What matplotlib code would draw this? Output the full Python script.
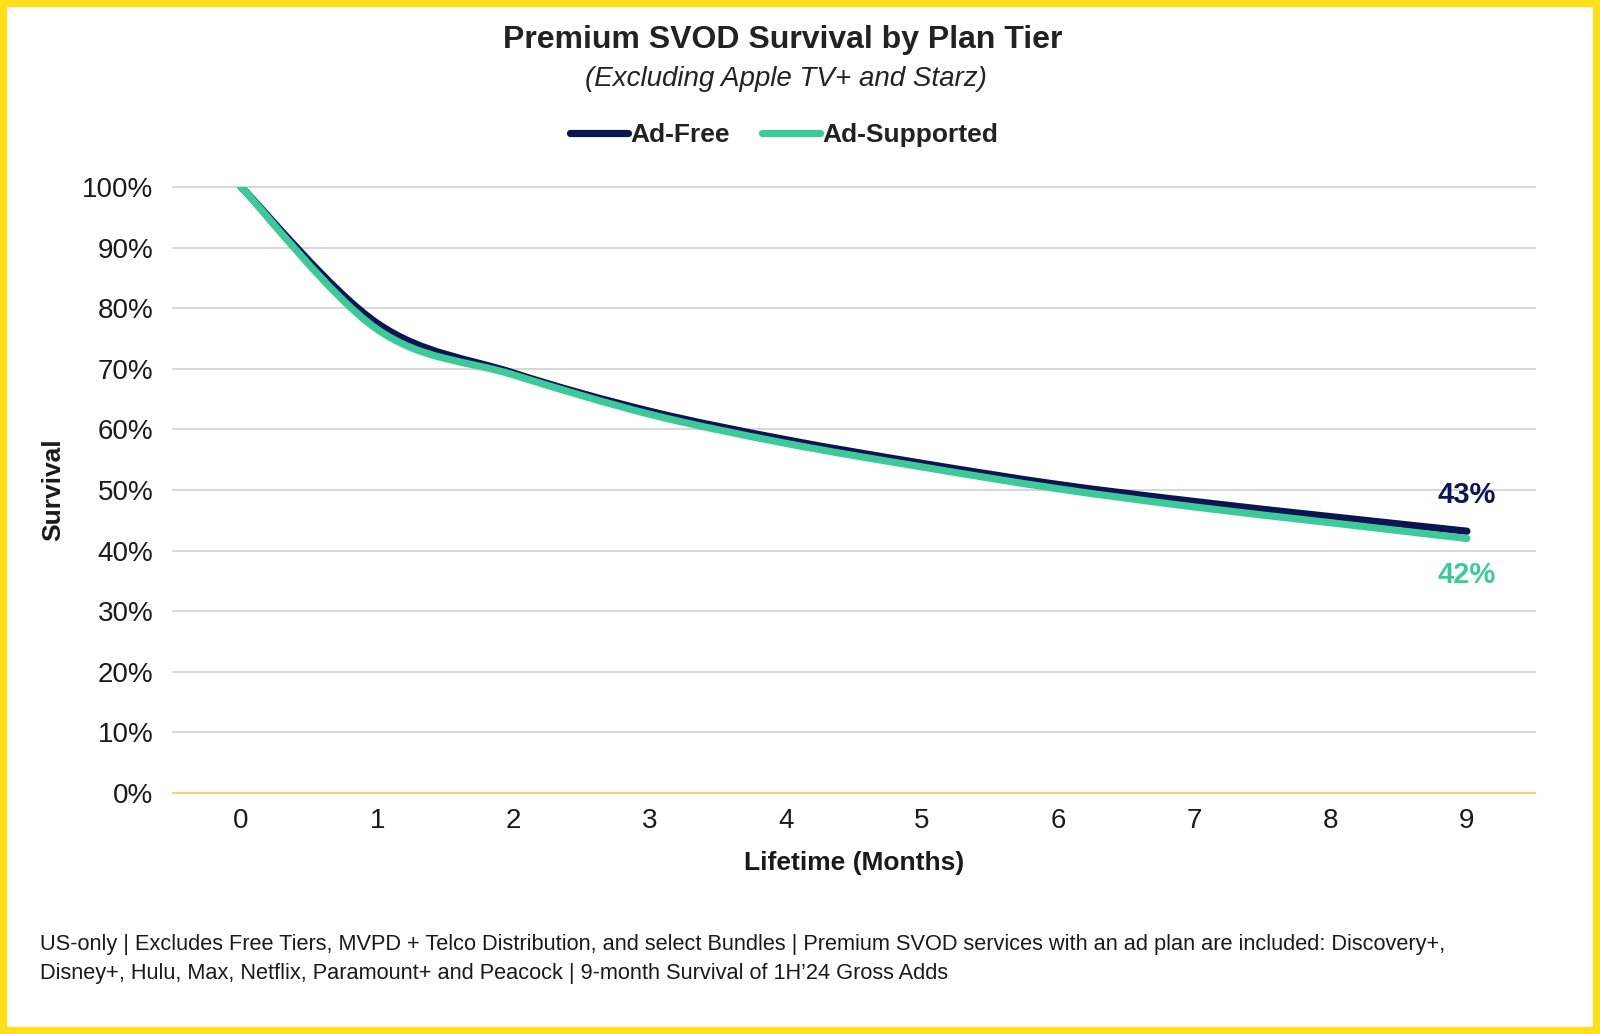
import numpy as np
import matplotlib.pyplot as plt
from matplotlib.path import Path
from matplotlib.patches import PathPatch, Rectangle
from matplotlib.lines import Line2D

months = [0, 1, 2, 3, 4, 5, 6, 7, 8, 9]
ad_free = [1.000, 0.775, 0.693, 0.630, 0.583, 0.544, 0.509, 0.481, 0.456, 0.432]
ad_supported = [1.000, 0.765, 0.690, 0.625, 0.577, 0.538, 0.502, 0.472, 0.446, 0.420]
series_names = ['Ad-Free', 'Ad-Supported']
end_labels = ['43%', '42%']

NAVY = '#0c1452'
GREEN = '#3ec99b'
GRID = '#d4d4d4'
YELLOW = '#ffdf1c'
TEXT = '#1a1a1a'

plt.rcParams['font.family'] = ['Liberation Sans', 'DejaVu Sans']


def smooth_path(xs, ys):
    # Catmull-Rom style bezier, similar to a spreadsheet "smoothed line"
    p = np.column_stack([xs, ys]).astype(float)
    n = len(p)
    verts = [p[0]]
    codes = [Path.MOVETO]
    for i in range(n - 1):
        p0 = p[i - 1] if i > 0 else p[i]
        p3 = p[i + 2] if i + 2 < n else p[i + 1]
        c1 = p[i] + (p[i + 1] - p0) / 6
        c2 = p[i + 1] - (p3 - p[i]) / 6
        verts += [c1, c2, p[i + 1]]
        codes += [Path.CURVE4] * 3
    return Path(verts, codes)


fig = plt.figure(figsize=(16, 10.34), dpi=100)
ax = fig.add_axes([173 / 1600, 1 - 793 / 1034, 1362 / 1600, 606 / 1034])

for vals, col in [(ad_free, NAVY), (ad_supported, GREEN)]:
    patch = PathPatch(smooth_path(months, vals), fill=False, edgecolor=col,
                      lw=5.2, capstyle='round', joinstyle='round', zorder=3)
    ax.add_patch(patch)

ax.set_xlim(-0.5, 9.5)
ax.set_ylim(0, 1.0)
ax.set_yticks(np.arange(0, 1.01, 0.1))
ax.set_yticklabels([f'{int(round(v * 100))}%' for v in np.arange(0, 1.01, 0.1)])
ax.set_xticks(months)
ax.set_xticklabels([str(m) for m in months])
ax.tick_params(axis='both', length=0, labelsize=20, labelcolor=TEXT)
ax.tick_params(axis='y', pad=14)
ax.tick_params(axis='x', pad=11)
for v in np.arange(0.1, 1.01, 0.1):
    ax.axhline(v, color=GRID, lw=1.3, zorder=1, clip_on=False)
for s in ['top', 'right', 'left']:
    ax.spines[s].set_visible(False)
ax.spines['bottom'].set_color('#f5d66a')
ax.spines['bottom'].set_linewidth(1.6)

ax.set_xlabel('Lifetime (Months)', fontsize=19, fontweight='bold', color=TEXT, labelpad=12)
ax.set_ylabel('Survival', fontsize=19, fontweight='bold', color=TEXT, labelpad=12)

ax.annotate(end_labels[0], (months[-1], ad_free[-1]), xytext=(0, 26), textcoords='offset points',
            ha='center', va='center', fontsize=21, fontweight='bold', color=NAVY)
ax.annotate(end_labels[1], (months[-1], ad_supported[-1]), xytext=(0, -26), textcoords='offset points',
            ha='center', va='center', fontsize=21, fontweight='bold', color=GREEN)

fig.text(0.489, 1 - 40 / 1034, 'Premium SVOD Survival by Plan Tier', ha='center', va='center',
         fontsize=23, fontweight='bold', color='#222222')
fig.text(0.491, 1 - 79 / 1034, '(Excluding Apple TV+ and Starz)', ha='center', va='center',
         fontsize=20, style='italic', color='#222222')

handles = [Line2D([], [], color=NAVY, lw=5.2, solid_capstyle='round'),
           Line2D([], [], color=GREEN, lw=5.2, solid_capstyle='round')]
leg = fig.legend(handles, series_names, loc='center', bbox_to_anchor=(0.49, 1 - 135 / 1034),
                 ncol=2, frameon=False, handlelength=2.2, handletextpad=0.1, columnspacing=1.2,
                 prop={'size': 19, 'weight': 'bold'})
for t in leg.get_texts():
    t.set_color('#222222')

foot = ('US-only | Excludes Free Tiers, MVPD + Telco Distribution, and select Bundles | Premium SVOD '
        'services with an ad plan are included: Discovery+,\n'
        'Disney+, Hulu, Max, Netflix, Paramount+ and Peacock | 9-month Survival of 1H\u201924 Gross Adds')
fig.text(40 / 1600, 1 - 959 / 1034, foot, ha='left', va='center', fontsize=15.7, color=TEXT,
         linespacing=1.5)

fig.add_artist(Rectangle((0.002, 0.003), 0.996, 0.994, transform=fig.transFigure,
                         fill=False, edgecolor=YELLOW, lw=6, zorder=10))

fig.savefig('out.png', dpi=100, facecolor='white')
